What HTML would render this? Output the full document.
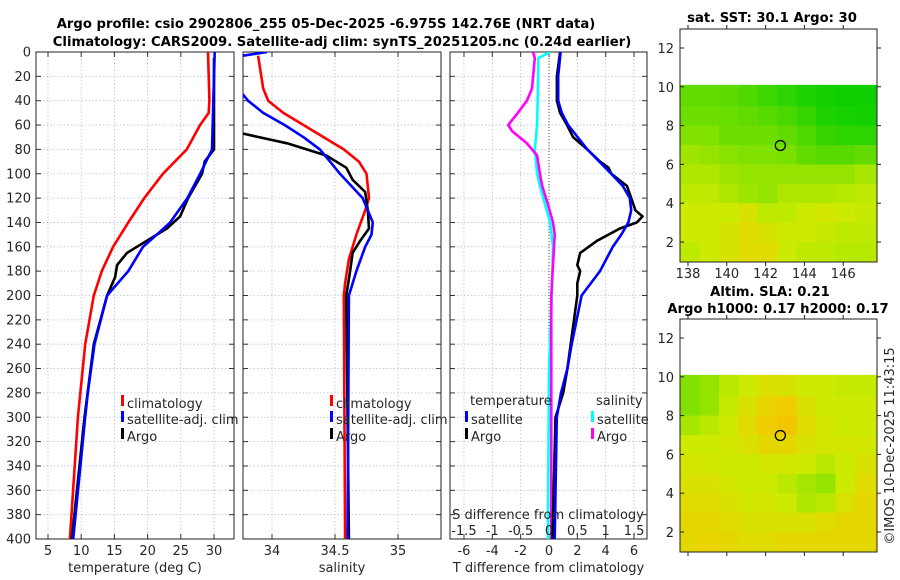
<!DOCTYPE html>
<html><head><meta charset="utf-8">
<style>
body{margin:0;background:#fff;}
svg{display:block;font-family:"DejaVu Sans","Liberation Sans",sans-serif;}
.t{font-size:13px;fill:#262626;}
.b{font-size:13.2px;font-weight:bold;fill:#000;}
</style></head>
<body>
<svg id="fig" width="900" height="580" viewBox="0 0 900 580" xmlns="http://www.w3.org/2000/svg">
<text class="b" x="326" y="28" text-anchor="middle">Argo profile: csio 2902806_255 05-Dec-2025 -6.975S 142.76E (NRT data)</text>
<text class="b" x="342" y="46" text-anchor="middle">Climatology: CARS2009. Satellite-adj clim: synTS_20251205.nc (0.24d earlier)</text>
<text class="b" x="772" y="22" text-anchor="middle">sat. SST: 30.1 Argo: 30</text>
<text class="b" x="770" y="296" text-anchor="middle">Altim. SLA: 0.21</text>
<text class="b" x="778" y="313" text-anchor="middle">Argo h1000: 0.17 h2000: 0.17</text>
<text class="t" x="0" y="0" transform="translate(894,446) rotate(-90)" text-anchor="middle">©IMOS 10-Dec-2025 11:43:15</text>
<g id="plots"></g>
</svg>
<script>
// ---- data ----
const depthTicks=[0,20,40,60,80,100,120,140,160,180,200,220,240,260,280,300,320,340,360,380,400];
const tempTicks=[5,10,15,20,25,30];
const salTicks=[34,34.5,35];
const salTickLabels=["34","34.5","35"];
const tdiffTicks=[-6,-4,-2,0,2,4,6];
const sdiffTicks=[-1.5,-1,-0.5,0,0.5,1,1.5];
const sdiffLabels=["-1.5","-1","-0.5","0","0.5","1","1.5"];

const climTdepth=[0,40,50,60,80,100,120,140,160,180,200,240,300,400];
const climT=[29.1,29.3,29.2,27.9,25.9,22.3,19.5,17.1,14.8,13.1,11.9,10.6,9.5,8.3];
const satTdepth=[0,80,100,120,140,150,160,180,200,240,280,300,400];
const satT=[30.1,29.7,27.9,26.0,23.4,21.4,19.3,17.1,13.9,12.0,11.0,10.6,8.8];
const argoTdepth=[5,70,80,90,100,120,135,145,155,165,175,185,200,240,300,400];
const argoT=[30.0,30.0,30.0,28.6,28.2,26.1,24.9,22.9,19.9,16.9,15.4,15.1,13.9,11.9,10.5,8.6];

const climSdepth=[3,30,40,50,60,70,80,90,100,120,130,150,170,190,200,400];
const climS=[33.89,33.93,33.97,34.09,34.25,34.41,34.57,34.69,34.75,34.77,34.74,34.67,34.61,34.58,34.57,34.58];
const satSdepth=[0,3,10,30,35,40,50,60,70,80,90,100,120,140,150,160,180,200,400];
const satS=[33.96,33.77,33.6,33.6,33.77,33.81,33.93,34.10,34.25,34.38,34.46,34.54,34.72,34.80,34.79,34.74,34.67,34.61,34.60];
const argoSdepth=[60,67,75,85,95,105,115,130,145,155,165,180,200,400];
const argoS=[33.3,33.77,34.12,34.43,34.59,34.64,34.74,34.76,34.77,34.70,34.64,34.62,34.59,34.61];

const dTdepth=[0,20,40,50,60,70,80,90,95,100,110,120,130,135,140,145,155,165,175,180,190,200,260,280,300,400];
const argoDT=[0.78,0.56,0.56,0.78,1.27,1.7,2.7,3.6,4.2,4.4,5.5,5.8,6.1,6.6,6.2,5.0,3.4,2.2,2.0,2.2,2.0,2.0,1.3,1.0,0.46,0.25];
const satDTdepth=[0,20,40,50,60,80,100,110,120,130,140,150,160,180,200,240,260,280,300,400];
const satDT=[0.82,0.65,0.65,0.9,1.35,2.7,4.4,5.2,5.7,5.8,5.6,5.1,4.5,3.6,2.3,1.6,1.3,0.85,0.55,0.4];
const satDSdepth=[0,5,20,60,80,100,110,120,140,160,200,260,400];
const satDS=[0.02,-0.19,-0.19,-0.21,-0.25,-0.21,-0.16,-0.1,0.02,0.07,0.05,0.0,-0.02];
const argoDSdepth=[0,5,30,40,50,60,65,75,85,100,110,125,140,150,200,400];
const argoDS=[-0.28,-0.25,-0.3,-0.39,-0.55,-0.72,-0.65,-0.39,-0.21,-0.16,-0.12,-0.02,0.07,0.1,0.04,0.04];

const lonTicks=[138,140,142,144,146];
const latTicks=[2,4,6,8,10,12];
const mapLons=[137.6,138.6,139.6,140.6,141.6,142.6,143.6,144.6,145.6,146.6,147.7];
const mapLats=[10.1,9,8,7,6,5,4,3,2,1];
const sstGrid=[
[0.4,0.4,0.38,0.32,0.25,0.18,0.12,0.08,0.06,0.06],
[0.45,0.45,0.42,0.4,0.35,0.3,0.22,0.12,0.1,0.08],
[0.5,0.5,0.45,0.45,0.45,0.4,0.32,0.22,0.18,0.18],
[0.58,0.55,0.52,0.5,0.5,0.48,0.4,0.35,0.35,0.4],
[0.62,0.62,0.58,0.55,0.55,0.55,0.55,0.55,0.55,0.6],
[0.66,0.66,0.62,0.58,0.55,0.62,0.62,0.62,0.64,0.66],
[0.7,0.7,0.7,0.74,0.66,0.66,0.7,0.72,0.7,0.68],
[0.7,0.7,0.74,0.78,0.74,0.7,0.7,0.68,0.66,0.66],
[0.66,0.7,0.74,0.78,0.78,0.7,0.66,0.66,0.64,0.64]];
const slaGrid=[
[0.5,0.55,0.65,0.7,0.75,0.75,0.7,0.7,0.68,0.68],
[0.5,0.55,0.68,0.75,0.82,0.85,0.75,0.7,0.7,0.7],
[0.6,0.65,0.7,0.78,0.85,0.88,0.78,0.72,0.7,0.7],
[0.7,0.7,0.72,0.75,0.8,0.8,0.75,0.72,0.72,0.72],
[0.72,0.72,0.7,0.7,0.72,0.72,0.7,0.65,0.7,0.75],
[0.75,0.75,0.72,0.7,0.7,0.65,0.6,0.55,0.7,0.78],
[0.78,0.78,0.75,0.72,0.72,0.7,0.62,0.65,0.75,0.8],
[0.8,0.8,0.78,0.75,0.75,0.75,0.75,0.78,0.8,0.8],
[0.8,0.82,0.8,0.78,0.78,0.8,0.8,0.8,0.8,0.8]];
const argoLon=142.76, argoLat=6.975;

// ---- drawing ----
const NS="http://www.w3.org/2000/svg";
const root=document.getElementById('plots');
function mk(tag,attrs,parent){const e=document.createElementNS(NS,tag);for(const k in attrs)e.setAttribute(k,attrs[k]);(parent||root).appendChild(e);return e;}
const Y0=52,Y1=539;
const yD=d=>Y0+(d/400)*(Y1-Y0);
const panels=[
 {x0:36,x1:234,name:'temperature',f:v=>48+(v-5)*6.64},
 {x0:243,x1:441,name:'salinity',f:v=>272+(v-34)*126},
 {x0:450,x1:647,name:'difference',f:v=>549+v*14.17}];
const fS=v=>549+v*56.7;

panels.forEach((p,i)=>{
  const g=mk('g',{});
  
  
  const cp=mk('clipPath',{id:'cp'+i},g);mk('rect',{x:p.x0,y:Y0,width:p.x1-p.x0,height:Y1-Y0},cp);
  const xt=i===0?tempTicks:i===1?salTicks:tdiffTicks;
  xt.forEach(v=>{const x=p.f(v);mk('line',{x1:x,x2:x,y1:Y0,y2:Y1,stroke:'#b8bfe0','stroke-width':0.8,'stroke-dasharray':'1.5,2'},g);
    mk('line',{x1:x,x2:x,y1:Y0,y2:Y0+5,stroke:'#333'},g);mk('line',{x1:x,x2:x,y1:Y1,y2:Y1-5,stroke:'#333'},g);});
  depthTicks.forEach(d=>{const y=yD(d);mk('line',{x1:p.x0,x2:p.x1,y1:y,y2:y,stroke:'#b8bfe0','stroke-width':0.8,'stroke-dasharray':'1.5,2'},g);
    mk('line',{x1:p.x0,x2:p.x0+5,y1:y,y2:y,stroke:'#333'},g);mk('line',{x1:p.x1-5,x2:p.x1,y1:y,y2:y,stroke:'#333'},g);
    if(i===0){const t=mk('text',{x:p.x0-5,y:y+4.5,'text-anchor':'end',class:'t'},g);t.textContent=d;
      
      }});
  mk('rect',{x:p.x0,y:Y0,width:p.x1-p.x0,height:Y1-Y0,fill:'none',stroke:'#222','stroke-width':1},g);
  const lbls=i===0?tempTicks.map(String):i===1?salTickLabels:tdiffTicks.map(String);
  xt.forEach((v,k)=>{const t=mk('text',{x:p.f(v),y:555,'text-anchor':'middle',class:'t'},g);t.textContent=lbls[k];
    
    });
  const ttl=['temperature (deg C)','salinity','T difference from climatology'][i];
  const at=mk('text',{x:(p.x0+p.x1)/2,y:572,'text-anchor':'middle',class:'t'},g);at.textContent=ttl;
  
  
  p.g=g;
});
function line(pi,depths,vals,fx,color,name,w){
  const pts=depths.map((d,k)=>fx(vals[k]).toFixed(1)+','+yD(d).toFixed(1)).join(' ');
  const l=mk('polyline',{points:pts,fill:'none',stroke:color,'stroke-width':w||2.6,'stroke-linejoin':'round','clip-path':'url(#cp'+pi+')'},panels[pi].g);
  
  
}
const zl=mk('line',{x1:549,x2:549,y1:Y0,y2:Y1,stroke:'#555','stroke-width':1,'stroke-dasharray':'1,2'},panels[2].g);


line(0,climTdepth,climT,panels[0].f,'#ff0000','climatology-temperature-line');
line(0,argoTdepth,argoT,panels[0].f,'#000','argo-temperature-line');
line(0,satTdepth,satT,panels[0].f,'#0000ff','satellite-temperature-line');
line(1,climSdepth,climS,panels[1].f,'#ff0000','climatology-salinity-line');
line(1,argoSdepth,argoS,panels[1].f,'#000','argo-salinity-line');
line(1,satSdepth,satS,panels[1].f,'#0000ff','satellite-salinity-line');
line(2,satDSdepth,satDS,fS,'#00ffff','satellite-s-diff-line');
line(2,argoDSdepth,argoDS,fS,'#ff00ff','argo-s-diff-line');
line(2,dTdepth,argoDT,panels[2].f,'#000','argo-t-diff-line');
line(2,satDTdepth,satDT,panels[2].f,'#0000ff','satellite-t-diff-line');

const st=mk('text',{x:548,y:519,'text-anchor':'middle',class:'t'},panels[2].g);st.textContent='S difference from climatology';


sdiffTicks.forEach((v,k)=>{const t=mk('text',{x:fS(v),y:535,'text-anchor':'middle',class:'t'},panels[2].g);t.textContent=sdiffLabels[k];
  
  });

function leg(g,x,y,color,label){
  const e=mk('g',{},g);
  
  
  mk('rect',{x:x,y:y-10,width:3,height:11,fill:color},e);
  const t=mk('text',{x:x+6,y:y+3,class:'t'},e);t.textContent=label;}
[[0,121],[1,330]].forEach(([pi,x])=>{leg(panels[pi].g,x,405,'#ff0000','climatology');leg(panels[pi].g,x,421,'#0000ff','satellite-adj. clim');leg(panels[pi].g,x,438,'#000','Argo');});
const tl=mk('text',{x:470,y:405,class:'t'},panels[2].g);tl.textContent='temperature';

const sl=mk('text',{x:596,y:405,class:'t'},panels[2].g);sl.textContent='salinity';

leg(panels[2].g,465,421,'#0000ff','satellite');leg(panels[2].g,465,438,'#000','Argo');
leg(panels[2].g,591,421,'#00ffff','satellite');leg(panels[2].g,591,438,'#ff00ff','Argo');

function col(v){
  const stops=[[0,[0,205,0]],[0.45,[110,222,0]],[0.7,[205,235,0]],[0.85,[240,205,0]],[1,[245,165,0]]];
  for(let i=1;i<stops.length;i++){if(v<=stops[i][0]){const a=stops[i-1],b=stops[i],t=(v-a[0])/(b[0]-a[0]);
    return 'rgb('+a[1].map((c,k)=>Math.round(c+(b[1][k]-c)*t)).join(',')+')';}}
  return 'rgb(245,165,0)';}
function drawMap(top,grid,name,showX){
  const x0=680,x1=877,y1=top+233;
  const fx=lon=>688+(lon-138)*19.4;
  const fy=lat=>top+19+(12-lat)*19.4;
  const g=mk('g',{});
  
  
  const cp=mk('clipPath',{id:'cp'+name},g);mk('rect',{x:x0,y:top,width:x1-x0,height:y1-top},cp);
  const cg=mk('g',{'clip-path':'url(#cp'+name+')'},g);
  grid.forEach((row,r)=>row.forEach((v,c)=>{
    const xa=fx(mapLons[c]),xb=fx(mapLons[c+1]),ya=fy(mapLats[r]),yb=fy(mapLats[r+1]!==undefined?mapLats[r+1]:0);
    const cell=mk('rect',{x:xa,y:ya,width:xb-xa+0.5,height:(r===grid.length-1?y1-ya:yb-ya)+0.5,fill:col(v)},cg);
    
    
  }));
  mk('rect',{x:x0,y:top,width:x1-x0,height:y1-top,fill:'none',stroke:'#222'},g);
  latTicks.forEach(l=>{const y=fy(l);mk('line',{x1:x0,x2:x0+4,y1:y,y2:y,stroke:'#222'},g);mk('line',{x1:x1,x2:x1+4,y1:y,y2:y,stroke:'#222'},g);
    const t=mk('text',{x:x0-6,y:y+5,'text-anchor':'end',class:'t'},g);t.textContent=l;
    });
  lonTicks.forEach(l=>{const x=fx(l);mk('line',{x1:x,x2:x,y1:top,y2:top-4,stroke:'#222'},g);mk('line',{x1:x,x2:x,y1:y1,y2:y1+4,stroke:'#222'},g);
    if(showX){const t=mk('text',{x:x,y:y1+16,'text-anchor':'middle',class:'t'},g);t.textContent=l;
      }});
  const m=mk('circle',{cx:fx(argoLon),cy:fy(argoLat),r:5,fill:'none',stroke:'#000','stroke-width':1.3},g);
  
  
}
drawMap(29,sstGrid,'sst-map',true);
drawMap(319,slaGrid,'sla-map',false);
</script>
</body></html>
